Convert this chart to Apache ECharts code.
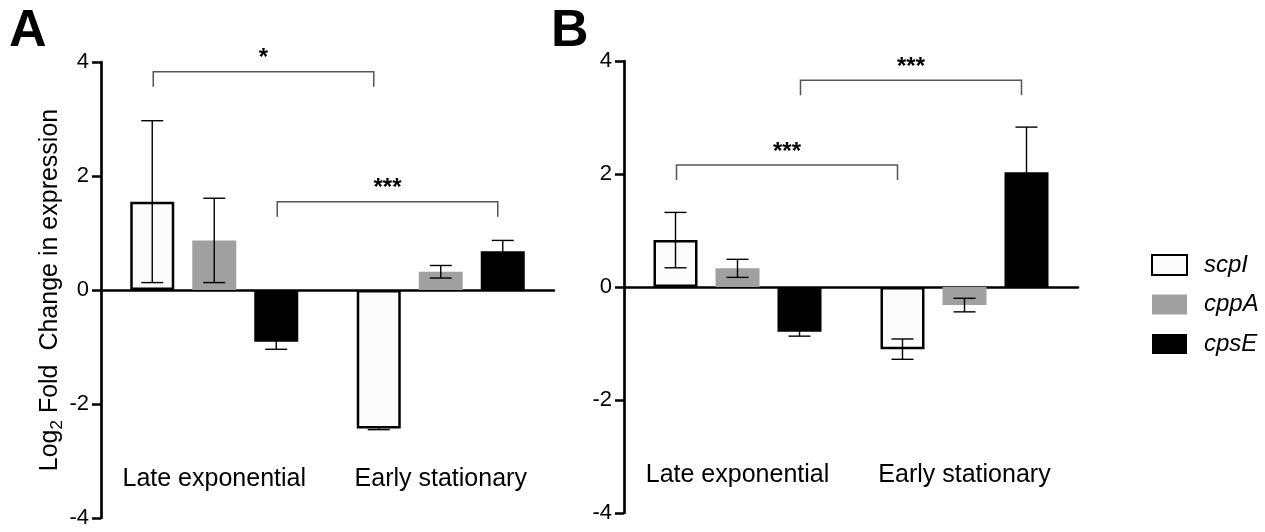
<!DOCTYPE html>
<html>
<head>
<meta charset="utf-8">
<script src="https://cdn.jsdelivr.net/npm/echarts@6/dist/echarts.min.js"></script>
<style>
  html, body { margin: 0; padding: 0; background: #fff; }
  #chart { width: 1265px; height: 532px; }
</style>
</head>
<body>
<div id="chart"></div>
<script>
// Growth phases and genes
const categories = ['Late exponential', 'Early stationary'];
const genes = ['scpI', 'cppA', 'cpsE'];
const yTicks = [-4, -2, 0, 2, 4];

// Panel A: mean log2 fold change and error (late exponential, early stationary)
const aScpI = [1.55, -2.43];
const aScpIErr = [1.42, 0.02];
const aCppA = [0.87, 0.32];
const aCppAErr = [0.74, 0.11];
const aCpsE = [-0.91, 0.68];
const aCpsEErr = [0.13, 0.19];

// Panel B
const bScpI = [0.83, -1.10];
const bScpIErr = [0.49, 0.18];
const bCppA = [0.33, -0.32];
const bCppAErr = [0.16, 0.12];
const bCpsE = [-0.79, 2.03];
const bCpsEErr = [0.08, 0.80];

// Significance brackets: [category, gene] at each end, bracket height, label
const aBrackets = [
  { from: [0, 0], to: [1, 0], y: 3.83, text: '*' },
  { from: [0, 2], to: [1, 2], y: 1.55, text: '***' }
];
const bBrackets = [
  { from: [0, 0], to: [1, 0], y: 2.16, text: '***' },
  { from: [0, 2], to: [1, 2], y: 3.66, text: '***' }
];

const FONT = '"Liberation Sans", Arial, Helvetica, sans-serif';
const BAR_W = 44;
const BAR_SPACE = 18;
const STEP = BAR_W + BAR_SPACE;
const geneStyles = [
  { color: '#fbfbfb', borderColor: '#000', borderWidth: 2.5 },
  { color: '#a0a0a0' },
  { color: '#000' }
];

function barSeries(panel, values) {
  return values.map(function (vals, g) {
    return {
      name: genes[g],
      type: 'bar',
      xAxisIndex: panel,
      yAxisIndex: panel,
      data: vals,
      barWidth: BAR_W,
      barGap: (BAR_SPACE / BAR_W * 100) + '%',
      itemStyle: geneStyles[g],
      emphasis: { disabled: true },
      z: 2
    };
  });
}

function errorSeries(panel, means, errs) {
  const data = [];
  for (let g = 0; g < means.length; g++) {
    for (let c = 0; c < categories.length; c++) {
      data.push([c, g, means[g][c], errs[g][c]]);
    }
  }
  return {
    type: 'custom',
    xAxisIndex: panel,
    yAxisIndex: panel,
    data: data,
    encode: { x: 0, y: 2 },
    z: 5,
    silent: true,
    renderItem: function (params, api) {
      const c = api.value(0), g = api.value(1), m = api.value(2), e = api.value(3);
      const top = api.coord([c, m + e]);
      const bot = api.coord([c, m - e]);
      const x = top[0] + (g - 1) * STEP;
      const half = 11;
      const st = { stroke: '#000', lineWidth: 1.4, fill: null };
      return {
        type: 'group',
        children: [
          { type: 'line', shape: { x1: x, y1: top[1], x2: x, y2: bot[1] }, style: st },
          { type: 'line', shape: { x1: x - half, y1: top[1], x2: x + half, y2: top[1] }, style: st },
          { type: 'line', shape: { x1: x - half, y1: bot[1], x2: x + half, y2: bot[1] }, style: st }
        ]
      };
    }
  };
}

function bracketSeries(panel, brackets) {
  return {
    type: 'custom',
    xAxisIndex: panel,
    yAxisIndex: panel,
    data: brackets.map(function (b) { return [b.from[0], b.from[1], b.to[0], b.to[1], b.y]; }),
    encode: { x: 0, y: 4 },
    z: 6,
    silent: true,
    renderItem: function (params, api) {
      const b = brackets[params.dataIndex];
      const p1 = api.coord([api.value(0), api.value(4)]);
      const p2 = api.coord([api.value(2), api.value(4)]);
      const x1 = p1[0] + (api.value(1) - 1) * STEP + 1;
      const x2 = p2[0] + (api.value(3) - 1) * STEP - 5;
      const y = p1[1];
      const leg = 15;
      return {
        type: 'group',
        children: [
          {
            type: 'polyline',
            shape: { points: [[x1, y + leg], [x1, y], [x2, y], [x2, y + leg]] },
            style: { stroke: '#555', lineWidth: 1.5, fill: null }
          },
          {
            type: 'text',
            style: {
              x: (x1 + x2) / 2, y: y - 13,
              text: b.text,
              font: 'bold 24px ' + FONT,
              fill: '#000',
              align: 'center', verticalAlign: 'middle'
            }
          }
        ]
      };
    }
  };
}

function xAxisFor(gridIndex, labelMargin) {
  return {
    type: 'category',
    gridIndex: gridIndex,
    data: categories,
    axisLine: { onZero: true, lineStyle: { color: '#000', width: 2.5 } },
    axisTick: { show: false },
    axisLabel: { margin: labelMargin, fontSize: 25, color: '#000', fontFamily: FONT, interval: 0 },
    splitLine: { show: false }
  };
}

function yAxisFor(gridIndex, withName) {
  const ax = {
    type: 'value',
    gridIndex: gridIndex,
    min: yTicks[0],
    max: yTicks[yTicks.length - 1],
    interval: 2,
    axisLine: { show: true, lineStyle: { color: '#000', width: 2.7 } },
    axisTick: { show: true, length: 9, lineStyle: { color: '#000', width: 2.5 } },
    axisLabel: { margin: 12, fontSize: 22, color: '#000', fontFamily: FONT },
    splitLine: { show: false }
  };
  if (withName) {
    ax.name = '{n|Log}{s|2}{n| Fold  Change in expression}';
    ax.nameLocation = 'middle';
    ax.nameRotate = 90;
    ax.nameGap = 31;
    ax.nameTextStyle = {
      rich: {
        n: { fontSize: 25, color: '#000', fontFamily: FONT, lineHeight: 30, verticalAlign: 'middle' },
        s: { fontSize: 17, color: '#000', fontFamily: FONT, lineHeight: 17, verticalAlign: 'bottom' }
      }
    };
  }
  return ax;
}

const chart = echarts.init(document.getElementById('chart'), null, { renderer: 'canvas' });

const option = {
  animation: false,
  backgroundColor: '#fff',
  textStyle: { fontFamily: FONT },
  grid: [
    { left: 101, top: 62, width: 453, height: 456, containLabel: false, outerBoundsMode: 'none' },
    { left: 624, top: 61, width: 454, height: 452, containLabel: false, outerBoundsMode: 'none' }
  ],
  xAxis: [xAxisFor(0, -51), xAxisFor(1, -50)],
  yAxis: [yAxisFor(0, true), yAxisFor(1, false)],
  legend: {
    data: genes,
    icon: 'rect',
    orient: 'vertical',
    left: 1146,
    top: 248,
    itemWidth: 35,
    itemHeight: 20,
    itemGap: 15.5,
    selectedMode: false,
    textStyle: { fontSize: 24, fontStyle: 'italic', color: '#000', fontFamily: FONT, padding: [0, 0, 0, 12] }
  },
  graphic: [
    { type: 'text', left: 9, top: 6, style: { text: 'A', font: 'bold 52px ' + FONT, fill: '#000' } },
    { type: 'text', left: 551, top: 6, style: { text: 'B', font: 'bold 52px ' + FONT, fill: '#000' } }
  ],
  series: [].concat(
    barSeries(0, [aScpI, aCppA, aCpsE]),
    barSeries(1, [bScpI, bCppA, bCpsE]),
    [
      errorSeries(0, [aScpI, aCppA, aCpsE], [aScpIErr, aCppAErr, aCpsEErr]),
      errorSeries(1, [bScpI, bCppA, bCpsE], [bScpIErr, bCppAErr, bCpsEErr]),
      bracketSeries(0, aBrackets),
      bracketSeries(1, bBrackets)
    ]
  )
};

chart.setOption(option);
</script>
</body>
</html>
